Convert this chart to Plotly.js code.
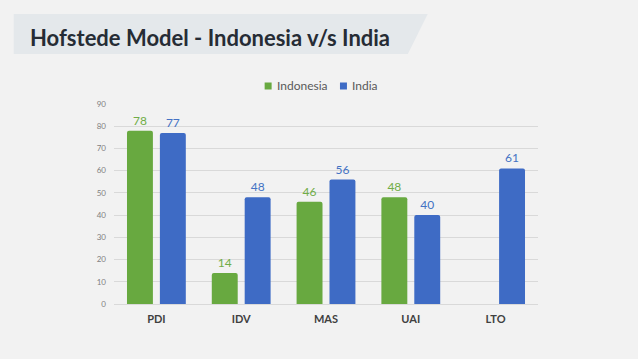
<!DOCTYPE html>
<html><head><meta charset="utf-8">
<script src="https://cdn.plot.ly/plotly-3.0.1.min.js"></script>
<style>html,body{margin:0;padding:0;background:#f2f2f2;}#chart{width:638px;height:359px;}</style>
</head><body><div id="chart"></div>
<script>
const categories = ["PDI","IDV","MAS","UAI","LTO"];
const indonesia = [78, 14, 46, 48, null];
const india = [77, 48, 56, 40, 61];
const yTicks = [0,10,20,30,40,50,60,70,80,90];
const seriesNames = ["Indonesia", "India"];
const seriesColors = ["#68a940", "#3e6bc5"];
const labelColors = ["#70ad47", "#4472c4"];
const chartTitle = "Hofstede Model - Indonesia v/s India";

const L=113.5, R=538.5, T=104, B=304;
const px = x => (x - L) / (R - L);
const py = y => (B - y) / (B - T);

const fnt = "Lato, 'Open Sans', sans-serif";
const traces = [indonesia, india].map((vals, i) => ({
  type:'bar', name:seriesNames[i], x:categories, y:vals,
  marker:{color:seriesColors[i], cornerradius:2},
  text:vals.map(v=>v==null?'':String(v)), textposition:'outside', cliponaxis:false,
  textfont:{color:labelColors[i], size:12, family:fnt}, hoverinfo:'none', showlegend:false
}));

// legend drawn as squares + labels
const legendItems = [{sx:264.5, tx:275}, {sx:340, tx:350}];
const legendShapes = legendItems.map((it, i) => ({type:'rect', xref:'paper', yref:'paper',
  x0:px(it.sx), x1:px(it.sx+7), y0:py(89.5), y1:py(82.5), fillcolor:seriesColors[i], line:{width:0}}));
const legendAnn = legendItems.map((it, i) => ({xref:'paper', yref:'paper', x:px(it.tx), y:py(86),
  xanchor:'left', yanchor:'middle', text:seriesNames[i], showarrow:false,
  font:{size:12, color:'#595959', family:fnt}}));

const layout = {
  width:638, height:359,
  paper_bgcolor:'#f2f2f2', plot_bgcolor:'#f2f2f2',
  margin:{l:L, r:638-R, t:T, b:359-B, pad:0},
  barmode:'group', bargap:0.224, bargroupgap:0.212,
  font:{family:fnt, color:'#595959'},
  showlegend:false,
  xaxis:{range:[-0.5,4.5], showgrid:false, zeroline:false, showline:false,
         tickfont:{size:11, color:'#404040', family:fnt, weight:'bold'}, ticks:'', ticklabelstandoff:7, fixedrange:true},
  yaxis:{range:[0,90], tickvals:yTicks, showgrid:true, gridcolor:'#d9d9d9', gridwidth:1,
         zeroline:true, zerolinecolor:'#d9d9d9', showline:false, ticks:'',
         tickfont:{size:8, color:'#7f7f7f', family:fnt}, ticklabelstandoff:7, fixedrange:true},
  shapes:[{type:'path', xref:'paper', yref:'paper',
    path:`M ${px(13)} ${py(14)} L ${px(428)} ${py(14)} L ${px(408)} ${py(54)} L ${px(13)} ${py(54)} Z`,
    fillcolor:'#e4e8eb', line:{width:0}, layer:'below'}].concat(legendShapes),
  annotations:[{xref:'paper', yref:'paper', x:px(27), y:py(37), xanchor:'left', yanchor:'middle',
    text:'<b>'+chartTitle+'</b>', showarrow:false, font:{size:22, color:'#262c35', family:fnt}}].concat(legendAnn)
};
Plotly.newPlot('chart', traces, layout, {staticPlot:true, displayModeBar:false});
</script></body></html>
